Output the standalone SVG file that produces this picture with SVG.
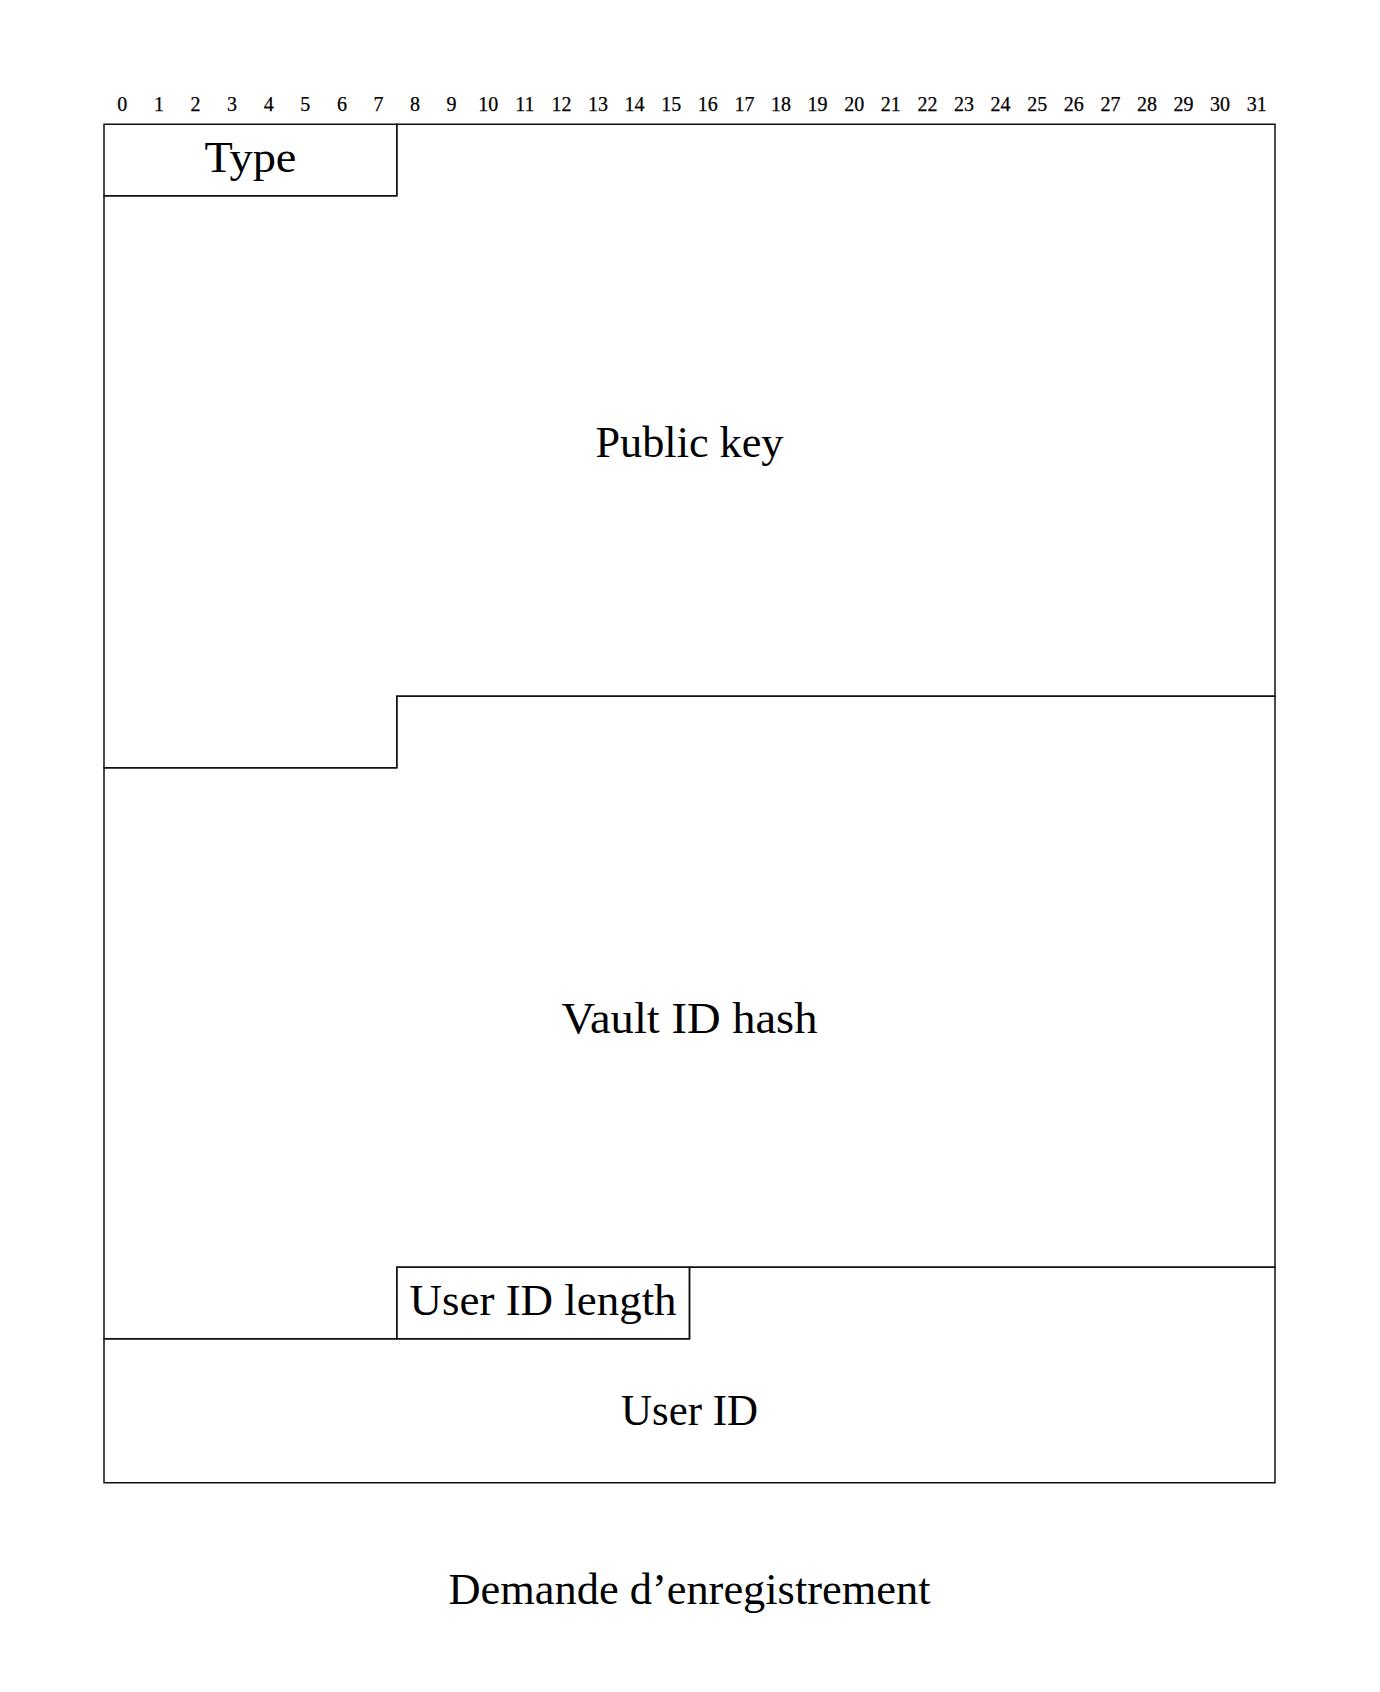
<svg xmlns="http://www.w3.org/2000/svg" width="1380" height="1692" viewBox="0 0 1380 1692">
<style>
.f{fill:none;stroke:#111;stroke-width:1.5;stroke-linejoin:miter}
.t{font-family:"Liberation Serif","DejaVu Serif",serif;font-size:45px;fill:#000;text-anchor:middle}
.n{font-family:"Liberation Serif","DejaVu Serif",serif;font-size:20px;fill:#000;stroke:#000;stroke-width:0.25;text-anchor:middle}
</style>
<rect width="1380" height="1692" fill="#fff"/>
<g id="bit-numbers">
<text class="n" x="122.3" y="111">0</text>
<text class="n" x="158.9" y="111">1</text>
<text class="n" x="195.5" y="111">2</text>
<text class="n" x="232.1" y="111">3</text>
<text class="n" x="268.7" y="111">4</text>
<text class="n" x="305.3" y="111">5</text>
<text class="n" x="341.9" y="111">6</text>
<text class="n" x="378.5" y="111">7</text>
<text class="n" x="415.0" y="111">8</text>
<text class="n" x="451.6" y="111">9</text>
<text class="n" x="488.2" y="111">10</text>
<text class="n" x="524.8" y="111">11</text>
<text class="n" x="561.4" y="111">12</text>
<text class="n" x="598.0" y="111">13</text>
<text class="n" x="634.6" y="111">14</text>
<text class="n" x="671.2" y="111">15</text>
<text class="n" x="707.8" y="111">16</text>
<text class="n" x="744.4" y="111">17</text>
<text class="n" x="781.0" y="111">18</text>
<text class="n" x="817.6" y="111">19</text>
<text class="n" x="854.2" y="111">20</text>
<text class="n" x="890.8" y="111">21</text>
<text class="n" x="927.4" y="111">22</text>
<text class="n" x="964.0" y="111">23</text>
<text class="n" x="1000.6" y="111">24</text>
<text class="n" x="1037.2" y="111">25</text>
<text class="n" x="1073.8" y="111">26</text>
<text class="n" x="1110.4" y="111">27</text>
<text class="n" x="1146.9" y="111">28</text>
<text class="n" x="1183.5" y="111">29</text>
<text class="n" x="1220.1" y="111">30</text>
<text class="n" x="1256.7" y="111">31</text>
</g>
<g id="type">
<path class="f" d="M104,124.3 H396.75 V195.8 H104 Z"/>
<text class="t" x="250.4" y="171.7" textLength="92" lengthAdjust="spacingAndGlyphs">Type</text>
</g>
<g id="public-key">
<path class="f" d="M396.75,124.3 H1275 V696.3 H396.75 V767.8 H104 V195.8 H396.75 Z"/>
<text class="t" x="689.5" y="457" textLength="188" lengthAdjust="spacingAndGlyphs">Public key</text>
</g>
<g id="vault-id-hash">
<path class="f" d="M396.75,696.3 H1275 V1267.3 H396.75 V1338.8 H104 V767.8 H396.75 Z"/>
<text class="t" x="689.5" y="1032.7" textLength="256" lengthAdjust="spacingAndGlyphs">Vault ID hash</text>
</g>
<g id="user-id-length">
<path class="f" d="M396.75,1267.3 H689.5 V1338.8 H396.75 Z"/>
<text class="t" x="543.1" y="1315" textLength="267" lengthAdjust="spacingAndGlyphs">User ID length</text>
</g>
<g id="user-id">
<path class="f" d="M689.5,1267.3 H1275 V1482.8 H104 V1338.8 H689.5 Z"/>
<text class="t" x="689.5" y="1425" textLength="137" lengthAdjust="spacingAndGlyphs">User ID</text>
</g>
<g id="connectors"></g>
<g id="caption">
<text class="t" x="689.5" y="1604" textLength="482" lengthAdjust="spacingAndGlyphs">Demande d’enregistrement</text>
</g>
</svg>
